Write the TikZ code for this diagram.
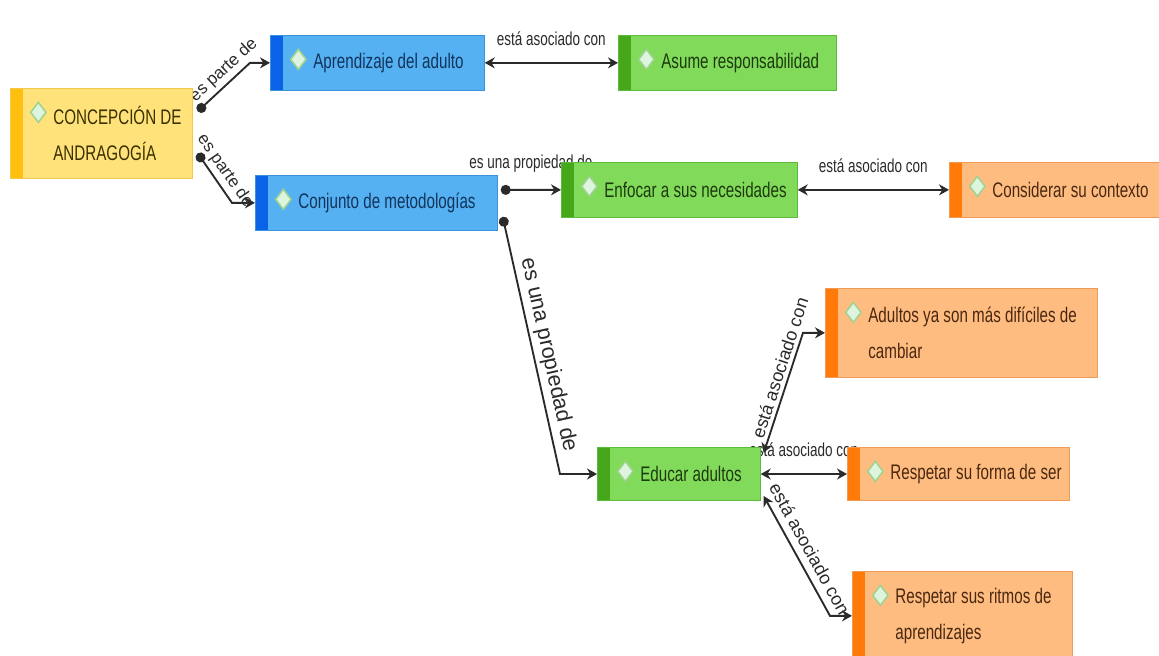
\documentclass[tikz,border=0pt]{standalone}
\usepackage{fontspec}
\usepackage{xcolor}
\usepackage{tikz}
\usetikzlibrary{arrows.meta}

\newfontfamily\mapfont{Liberation Sans}[FakeStretch=0.72]
\newfontfamily\linkfont{Liberation Sans}

\definecolor{yellowfill}{HTML}{FFE27A}
\definecolor{yellowbar}{HTML}{FFBF0F}
\definecolor{yellowline}{HTML}{F2C94C}
\definecolor{yellowtext}{HTML}{3A3000}
\definecolor{bluefill}{HTML}{55B1F2}
\definecolor{bluebar}{HTML}{0A62E6}
\definecolor{blueline}{HTML}{3A93DD}
\definecolor{bluetext}{HTML}{12345A}
\definecolor{greenfill}{HTML}{82DA5A}
\definecolor{greenbar}{HTML}{46A71B}
\definecolor{greenline}{HTML}{5DBB3C}
\definecolor{greentext}{HTML}{1D3A0E}
\definecolor{orangefill}{HTML}{FFBC80}
\definecolor{orangebar}{HTML}{FF7A08}
\definecolor{orangeline}{HTML}{F09A58}
\definecolor{orangetext}{HTML}{4A2810}
\definecolor{iconfill}{HTML}{DDF5DF}
\definecolor{iconline}{HTML}{9FD28F}
\definecolor{linkgray}{HTML}{2A2A2A}

\pgfdeclarelayer{background}
\pgfsetlayers{background,main}

\begin{document}
\begin{tikzpicture}[
    x=0.03cm, y=-0.03cm,
    bar/.style={path picture={
        \fill[#1] (path picture bounding box.north west) rectangle ([xshift=0.39cm]path picture bounding box.south west);
        \filldraw[fill=iconfill, draw=iconline, line width=1.3pt] ([xshift=0.84cm,yshift=-0.42cm]path picture bounding box.north west) -- ++(0.23cm,-0.3cm) -- ++(-0.23cm,-0.3cm) -- ++(-0.23cm,0.3cm) -- cycle;}},
    concept/.style={rectangle, anchor=north west, align=left, inner xsep=0.15cm, inner ysep=0pt, minimum height=1.65cm, line width=0.6pt, font=\mapfont\fontsize{18}{31}\selectfont, execute at begin node={\leftskip=1.14cm\spaceskip=0pt\xspaceskip=0pt}},
    root/.style={concept, fill=yellowfill, draw=yellowline, text=yellowtext, bar=yellowbar},
    block/.style={concept, fill=bluefill, draw=blueline, text=bluetext, bar=bluebar},
    idea/.style={concept, fill=greenfill, draw=greenline, text=greentext, bar=greenbar},
    detail/.style={concept, fill=orangefill, draw=orangeline, text=orangetext, bar=orangebar},
    link/.style={draw=linkgray, line width=1.6pt, -{Stealth[length=0.3cm, width=0.33cm]}},
    dot link/.style={link, {Circle[length=0.3cm]}-{Stealth[length=0.3cm, width=0.33cm]}},
    both link/.style={link, {Stealth[length=0.3cm, width=0.33cm]}-{Stealth[length=0.3cm, width=0.33cm]}},
    verb/.style={above=0.45cm, inner sep=1pt, text=linkgray, font=\mapfont\fontsize{16}{19}\selectfont},
    slope verb/.style={sloped, above, inner sep=3pt, text=linkgray, font=\linkfont\fontsize{#1}{#1}\selectfont}
]
\useasboundingbox (0,0) rectangle (1159,656);

\node[root, text width=5.16cm, minimum height=2.7cm] (andragogia) at (10,88) {CONCEPCIÓN DE\\ANDRAGOGÍA};
\node[block, text width=6.12cm] (aprendizaje) at (270,35) {Aprendizaje del adulto};
\node[idea, text width=6.24cm] (responsabilidad) at (618,35) {Asume responsabilidad};
\node[block, text width=6.96cm] (conjunto) at (255,175) {Conjunto de metodologías};
\node[idea, text width=6.78cm] (enfocar) at (561,162) {Enfocar a sus necesidades};
\node[detail, text width=6.24cm] (contexto) at (949,162) {Considerar su contexto};
\node[idea, text width=4.59cm, minimum height=1.6cm] (educar) at (597,447) {Educar adultos};
\node[detail, text width=7.86cm, minimum height=2.67cm] (dificiles) at (825,288) {Adultos ya son más difíciles de\\cambiar};
\node[detail, text width=6.36cm, minimum height=1.6cm] (forma) at (847,447) {Respetar su forma de ser};
\node[detail, text width=6.3cm, minimum height=2.67cm] (ritmos) at (852,571) {Respetar sus ritmos de\\aprendizajes};

\begin{pgfonlayer}{background}
\draw[dot link] ([xshift=0.15cm,yshift=0.66cm]andragogia.east) -- node[slope verb=14.5, pos=0.66] {es parte de} ([xshift=-0.6cm]aprendizaje.west) -- (aprendizaje.west);
\draw[dot link] ([xshift=0.15cm,yshift=-0.6cm]andragogia.east) -- node[slope verb=14.5] {es parte de} ([xshift=-0.69cm]conjunto.west) -- (conjunto.west);
\draw[both link] (aprendizaje.east) -- node[verb] {está asociado con} (responsabilidad.west);
\draw[dot link] ([xshift=0.09cm,yshift=0.39cm]conjunto.east) -- node[verb] {es una propiedad de} (enfocar.west);
\draw[both link] (enfocar.east) -- node[verb] {está asociado con} (contexto.west);
\draw[dot link] ([xshift=0.15cm,yshift=-0.42cm]conjunto.east) -- node[slope verb=18.5, pos=0.55] {es una propiedad de} ([xshift=-1.11cm]educar.west) -- (educar.west);
\draw[both link] ([xshift=0.09cm,yshift=0.63cm]educar.east) -- node[slope verb=15.5, pos=0.68] {está asociado con} ([xshift=-0.66cm]dificiles.west) -- (dificiles.west);
\draw[both link] (educar.east) -- node[verb] {está asociado con} (forma.west);
\draw[both link] ([xshift=0.09cm,yshift=-0.66cm]educar.east) -- node[slope verb=15.5, inner sep=6pt] {está asociado con} ([xshift=-0.66cm]ritmos.west) -- (ritmos.west);
\end{pgfonlayer}
\end{tikzpicture}
\end{document}
